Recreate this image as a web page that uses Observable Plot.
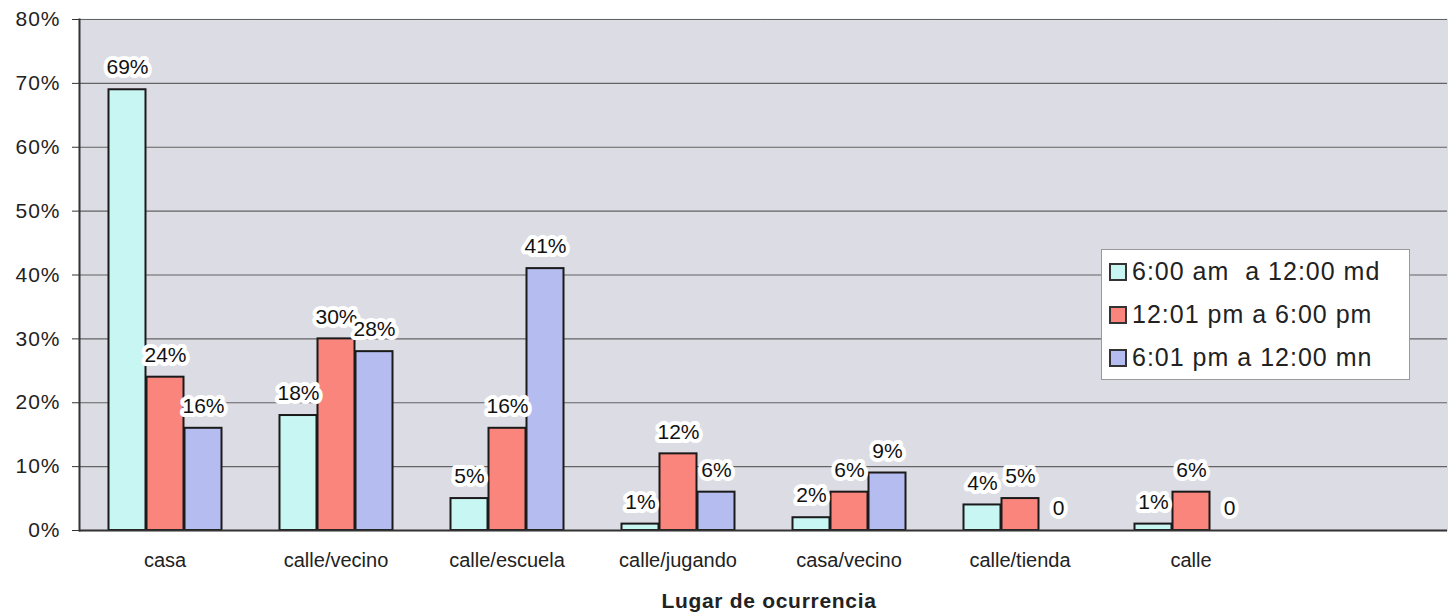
<!DOCTYPE html>
<html>
<head>
<meta charset="utf-8">
<script src="https://cdn.jsdelivr.net/npm/d3@7"></script>
<script src="https://cdn.jsdelivr.net/npm/@observablehq/plot@0.6"></script>
<style>
  html, body { margin: 0; padding: 0; background: #ffffff; }
  body { width: 1448px; height: 616px; position: relative; overflow: hidden; font-family: "Liberation Sans", Arial, sans-serif; }
  #chart svg { display: block; }
  #xtitle { position: absolute; left: 77px; width: 1384px; top: 590px; text-align: center; font-weight: bold; font-size: 21px; letter-spacing: 0.7px; line-height: 22px; color: #222; }
  #legend { position: absolute; left: 1101px; top: 249px; width: 309px; height: 131px; background: #fff; border: 1px solid #999; box-sizing: border-box; padding: 0 0 0 7px; }
  .item { display: flex; align-items: center; height: 43px; font-size: 25px; letter-spacing: 1px; color: #222; white-space: pre; }
  .sw { width: 18px; height: 18px; border: 2px solid #333; margin-right: 5px; box-sizing: border-box; flex: none; }
</style>
</head>
<body>
<div id="chart"></div>
<div id="legend"></div>
<div id="xtitle">Lugar de ocurrencia</div>
<script>
const categories = ["casa", "calle/vecino", "calle/escuela", "calle/jugando", "casa/vecino", "calle/tienda", "calle"];
const slots = [...categories, " "];
const periods = ["6:00 am  a 12:00 md", "12:01 pm a 6:00 pm", "6:01 pm a 12:00 mn"];
const morning   = [69, 18, 5, 1, 2, 4, 1];
const afternoon = [24, 30, 16, 12, 6, 5, 6];
const night     = [16, 28, 41, 6, 9, 0, 0];
const yTicks = [0, 10, 20, 30, 40, 50, 60, 70, 80];
const colors = ["#c8f6f3", "#f9857c", "#b5bcf0"];
const plotBg = "#dcdde4";

const seriesValues = [morning, afternoon, night];
const rows = categories.flatMap((c, i) =>
  seriesValues.map((arr, j) => ({cat: c, period: periods[j], value: arr[i]}))
);

const chart = Plot.plot({
  width: 1448,
  height: 580,
  marginLeft: 77,
  marginRight: 0,
  marginTop: 19,
  marginBottom: 50,
  style: {fontFamily: "'Liberation Sans', Arial, sans-serif", background: "white", color: "#222"},
  fx: {domain: slots, padding: 0, label: null},
  x: {domain: periods, paddingInner: 0, paddingOuter: 0.7, axis: null},
  y: {domain: [0, 80], label: null},
  color: {domain: periods, range: colors},
  marks: [
    Plot.frame({fill: plotBg, stroke: plotBg, strokeWidth: 1.5}),
    Plot.gridY(yTicks, {stroke: "#555", strokeOpacity: 0.9, strokeWidth: 1.2}),
    Plot.barY(rows.filter(d => d.value > 0), {
      fx: "cat", x: "period", y: "value", fill: "period",
      stroke: "#1a1a1a", strokeWidth: 2, insetLeft: 0.5, insetRight: 0.5
    }),
    Plot.ruleY(slots, {fx: d => d, y: () => 0, stroke: "#333", strokeWidth: 2}),
    Plot.frame({anchor: "left", stroke: "#333", strokeWidth: 2, facetAnchor: "left"}),
    Plot.text(rows, {
      fx: "cat", x: "period", y: "value",
      text: d => d.value === 0 ? "0" : d.value + "%",
      dy: -22, fontSize: 21, letterSpacing: 0.6, fill: "#111",
      stroke: "white", strokeWidth: 8, paintOrder: "stroke"
    }),
    Plot.axisY(yTicks, {tickFormat: d => d + "%", fontSize: 21, tickSize: 7, tickPadding: 12, label: null, stroke: "#333"}),
    Plot.axisFx({anchor: "bottom", tickSize: 0, tickPadding: 22, fontSize: 20, label: null})
  ]
});
document.getElementById("chart").appendChild(chart);
chart.querySelectorAll("[aria-label='y-axis tick label'] text").forEach(t => t.setAttribute("letter-spacing", "1"));

const legend = document.getElementById("legend");
periods.forEach((p, i) => {
  const item = document.createElement("div");
  item.className = "item";
  const sw = document.createElement("span");
  sw.className = "sw";
  sw.style.background = colors[i];
  const t = document.createElement("span");
  t.textContent = p;
  item.appendChild(sw);
  item.appendChild(t);
  legend.appendChild(item);
});
</script>
</body>
</html>
